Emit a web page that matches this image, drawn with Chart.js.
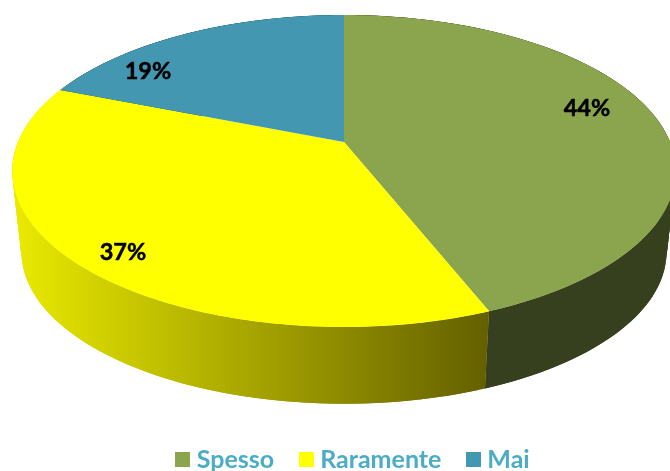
<!DOCTYPE html>
<html><head><meta charset="utf-8">
<style>html,body{margin:0;padding:0;background:#fff}#w{width:670px;height:471px}</style>
<script src="https://cdn.jsdelivr.net/npm/chart.js@4"></script>
</head><body><div id="w"><canvas id="c" width="670" height="471"></canvas></div>
<script>
const categories = ["Spesso", "Raramente", "Mai"];
const shares = [44, 37, 19];
const sliceColors = ["#8ba54e", "#ffff00", "#4397b1"];
const wallColors = ["#37401e", null, "#1f4a58"];
const valueLabels = ["44%", "37%", "19%"];

// Perspective view of the unit disc
const CX = 344, CY = 142, AX = 326, AY = -124.2, K = 0.186;
const VPY = 3067, S = 0.972;
function top3d(a) {
  const u = Math.cos(a), v = -Math.sin(a), d = 1 + K * v;
  return [CX + AX * u / d, (AY * v + CY) / d];
}
function low3d(a) {
  const p = top3d(a);
  return [CX + S * (p[0] - CX), VPY - S * (VPY - p[1])];
}
function sweep(ctx, a0, a1, fn, first) {
  const n = Math.max(8, Math.ceil(Math.abs(a1 - a0) * 80));
  for (let i = 0; i <= n; i++) {
    const p = fn(a0 + (a1 - a0) * i / n);
    if (i === 0 && first) ctx.moveTo(p[0], p[1]); else ctx.lineTo(p[0], p[1]);
  }
}
function wall(ctx, a0, a1) {
  const step = 0.02, n = Math.ceil((a1 - a0) / step);
  for (let i = 0; i < n; i++) {
    const s = a0 + i * step, e = Math.min(a1, s + 2 * step);
    const p = top3d(s), q = top3d(e), r = low3d(e), t = low3d(s);
    ctx.beginPath();
    ctx.moveTo(p[0], p[1]); ctx.lineTo(q[0], q[1]);
    ctx.lineTo(r[0], r[1]); ctx.lineTo(t[0], t[1]);
    ctx.closePath();
    ctx.fill();
  }
}
const labelSpots = [[587, 108.5], [123, 252.5], [148, 71.5]];

const view3d = {
  id: "view3d",
  beforeDatasetDraw(chart) {
    const ctx = chart.ctx, arcs = chart.getDatasetMeta(0).data;
    const grad = ctx.createLinearGradient(13, 0, 487, 0);
    grad.addColorStop(0, "#eaea00");
    grad.addColorStop(1, "#646000");
    ctx.save();
    arcs.forEach((arc, i) => {
      ctx.fillStyle = wallColors[i] || grad;
      wall(ctx, arc.startAngle, arc.endAngle);
    });
    arcs.forEach((arc) => {
      ctx.beginPath();
      ctx.moveTo(CX, CY);
      sweep(ctx, arc.startAngle, arc.endAngle, top3d, false);
      ctx.closePath();
      ctx.fillStyle = arc.options.backgroundColor;
      ctx.fill();
    });
    ctx.restore();
    return false;
  },
  afterDatasetsDraw(chart) {
    const ctx = chart.ctx;
    ctx.save();
    ctx.fillStyle = "#000";
    ctx.strokeStyle = "#000";
    ctx.lineWidth = 0.5;
    ctx.font = "bold 23.5px Lato";
    ctx.textAlign = "center";
    ctx.textBaseline = "middle";
    valueLabels.forEach((t, i) => {
      ctx.fillText(t, labelSpots[i][0], labelSpots[i][1]);
      ctx.strokeText(t, labelSpots[i][0], labelSpots[i][1]);
    });
    ctx.restore();
  }
};

function swatch(color) {
  const c = document.createElement("canvas");
  c.width = 15; c.height = 15;
  const g = c.getContext("2d");
  g.fillStyle = color;
  g.fillRect(0, 0, 15, 15);
  return c;
}

new Chart(document.getElementById("c"), {
  type: "pie",
  data: { labels: categories, datasets: [{ data: shares, backgroundColor: sliceColors, borderWidth: 0 }] },
  plugins: [view3d],
  options: {
    responsive: false,
    animation: false,
    layout: { padding: { left: 41, bottom: -11 } },
    plugins: {
      tooltip: { enabled: false },
      legend: {
        position: "bottom",
        labels: {
          usePointStyle: true,
          boxWidth: 3,
          padding: 30.5,
          color: "#4bacc6",
          font: { family: "Lato", weight: "bold", size: 25 },
          generateLabels: () => categories.map((t, i) => ({
            text: t, pointStyle: swatch(sliceColors[i]), fontColor: "#4bacc6",
            hidden: false, index: i, lineWidth: 0, strokeStyle: "transparent", fillStyle: sliceColors[i]
          }))
        }
      }
    }
  }
});
</script></body></html>
